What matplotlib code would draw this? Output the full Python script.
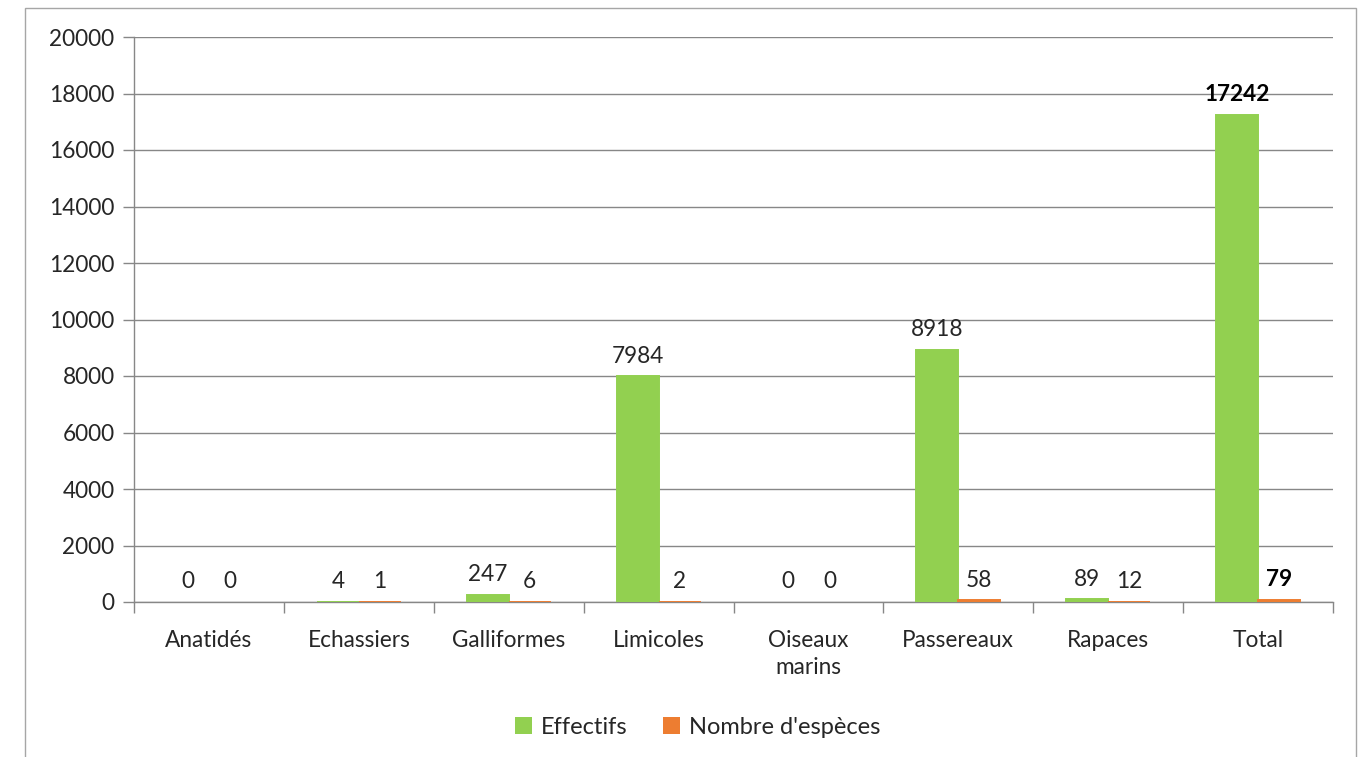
import matplotlib
matplotlib.use("Agg")
import matplotlib.pyplot as plt
from matplotlib.patches import Rectangle, Patch
import numpy as np

categories = ["Anatidés", "Echassiers", "Galliformes", "Limicoles",
              "Oiseaux\nmarins", "Passereaux", "Rapaces", "Total"]
effectifs = [0, 4, 247, 7984, 0, 8918, 89, 17242]
nb_especes = [0, 1, 6, 2, 0, 58, 12, 79]
series_names = ["Effectifs", "Nombre d'espèces"]
yticks = [0, 2000, 4000, 6000, 8000, 10000, 12000, 14000, 16000, 18000, 20000]

GREEN = "#92D050"
ORANGE = "#ED7D31"
GRID = "#878787"
TEXT = "#262626"
FS = 16.3

plt.rcParams["font.family"] = ["Lato", "DejaVu Sans"]

W, H = 1366, 757
fig = plt.figure(figsize=(W / 100, H / 100), dpi=100)
fig.patch.set_facecolor("white")

# chart frame
fig.patches.append(Rectangle((25 / W, -0.05), (1356 - 25) / W, 1.05 - 8 / H,
                             transform=fig.transFigure, fill=False,
                             edgecolor="#A6A6A6", linewidth=1.0, zorder=0))

ax = fig.add_axes([134 / W, 1 - 602 / H, (1333 - 134) / W, (602 - 37) / H])

x = np.arange(len(categories))
bw = 0.28
b1 = ax.bar(x - bw / 2, effectifs, bw, color=GREEN, edgecolor=GREEN,
            linewidth=1.4, zorder=3)
b2 = ax.bar(x + bw / 2, nb_especes, bw, color=ORANGE, edgecolor=ORANGE,
            linewidth=1.4, zorder=3)
# zero-valued bars are not drawn
for bars, vals in ((b1, effectifs), (b2, nb_especes)):
    for rect, v in zip(bars, vals):
        if v == 0:
            rect.set_visible(False)

last = len(categories) - 1
for bars, vals in ((b1, effectifs), (b2, nb_especes)):
    for i, (rect, v) in enumerate(zip(bars, vals)):
        ax.annotate(f"{v}", (rect.get_x() + rect.get_width() / 2, v),
                    xytext=(0, 7), textcoords="offset points",
                    ha="center", va="bottom", fontsize=FS,
                    color="black" if i == last else TEXT,
                    fontweight="bold" if i == last else "normal")

ax.set_xlim(-0.5, len(categories) - 0.5)
ax.set_ylim(0, 20000)
ax.set_yticks(yticks)
ax.set_yticklabels([str(t) for t in yticks], fontsize=FS, color=TEXT)
ax.yaxis.grid(True, color=GRID, linewidth=1.0, zorder=0)
ax.set_axisbelow(True)

ax.set_xticks(x)
ax.set_xticklabels(categories, fontsize=FS, color=TEXT, linespacing=1.35)
ax.tick_params(axis="x", length=0, pad=20)
ax.set_xticks(np.arange(-0.5, len(categories)), minor=True)
ax.tick_params(axis="x", which="minor", length=8, color=GRID, width=1.0)
ax.tick_params(axis="y", length=8, color=GRID, width=1.0, pad=6)

for side in ("top", "right"):
    ax.spines[side].set_visible(False)
for side in ("left", "bottom"):
    ax.spines[side].set_color(GRID)
    ax.spines[side].set_linewidth(1.0)

handles = [Patch(facecolor=GREEN, edgecolor="none"),
           Patch(facecolor=ORANGE, edgecolor="none")]
leg = fig.legend(handles=handles, labels=series_names, loc="center",
                 bbox_to_anchor=(698 / W, 1 - 727 / H), ncol=2, frameon=False,
                 fontsize=FS + 0.7, handlelength=0.7, handleheight=0.7,
                 handletextpad=0.4, columnspacing=1.5)
for t in leg.get_texts():
    t.set_color(TEXT)

fig.savefig("out.png", dpi=100, facecolor="white")
